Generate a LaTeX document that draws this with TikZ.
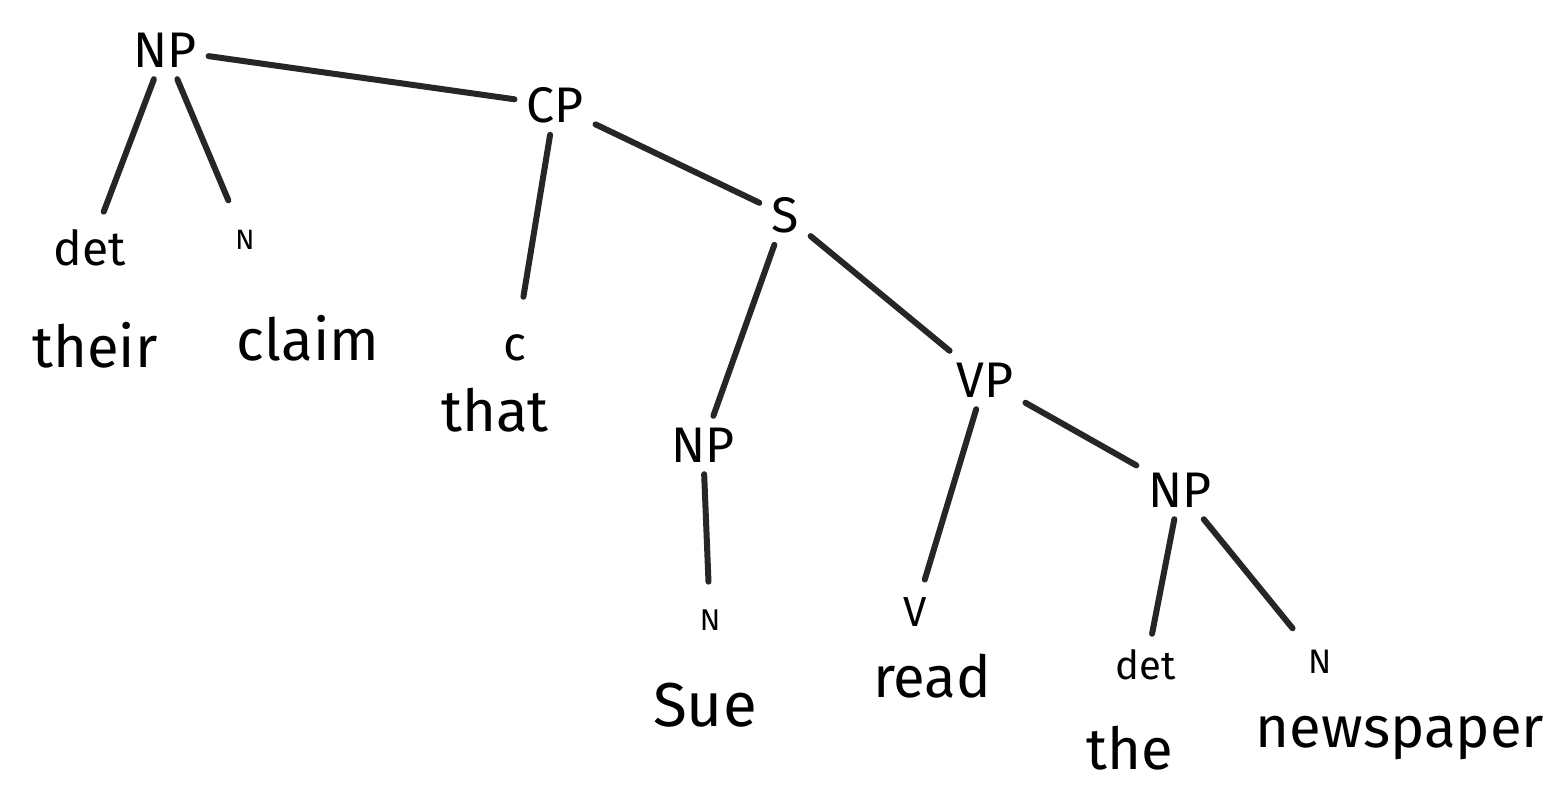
\documentclass[tikz,border=0pt]{standalone}
\usepackage{fontspec}
\setmainfont{Fira Sans}
\begin{document}
\begin{tikzpicture}[x=1pt,y=-1pt,
  cat/.style={inner sep=0pt,outer sep=12pt,font=\fontsize{50}{50}\selectfont},
  small/.style={inner sep=0pt,outer sep=14pt,font=\fontsize{#1}{#1}\selectfont},
  word/.style={inner sep=0pt,font=\fontsize{58}{58}\selectfont},
  edge/.style={line width=6pt,line cap=round,black!85}]
\useasboundingbox (0,0) rectangle (1545,805);
\fill[white] (0,0) rectangle (1545,805);
% phrase nodes
\node[cat] (np1) at (165,50) {NP};
\node[cat] (cp) at (555,105) {CP};
\node[cat] (s) at (785,215) {S};
\node[cat] (np2) at (703,445) {NP};
\node[cat] (vp) at (985,380) {VP};
\node[cat] (np3) at (1180,490) {NP};
% terminal categories
\node[small=48,outer sep=18pt] (det1) at (90,248) {det};
\node[small=28,outer sep=30pt] (n1) at (245,240) {N};
\node[small=48,outer sep=38pt] (c) at (515,348) {c};
\node[small=30,outer sep=28pt] (n2) at (710,620) {N};
\node[small=42,outer sep=18pt] (v) at (915,612) {V};
\node[small=40,outer sep=16pt] (det2) at (1146,665) {det};
\node[small=34,outer sep=22pt] (n3) at (1320,662) {N};
% words
\node[word] (their) at (95,345) {their};
\node[word] (claim) at (308,338) {claim};
\node[word] (that) at (495,410) {that};
\node[word,font=\fontsize{62}{62}\selectfont] (sue) at (705,705) {Sue};
\node[word] (read) at (932,676) {read};
\node[word] (the) at (1130,748) {the};
\node[word] (newspaper) at (1400,738) {newspaper};
% edges
\draw[edge] (np1) -- (cp);
\draw[edge] (np1) -- (det1);
\draw[edge] (np1) -- (n1);
\draw[edge] (cp) -- (c);
\draw[edge] (cp) -- (s);
\draw[edge] (s) -- (np2);
\draw[edge] (s) -- (vp);
\draw[edge] (np2) -- (n2);
\draw[edge] (vp) -- (v);
\draw[edge] (vp) -- (np3);
\draw[edge] (np3) -- (det2);
\draw[edge] (np3) -- (n3);
\end{tikzpicture}
\end{document}
